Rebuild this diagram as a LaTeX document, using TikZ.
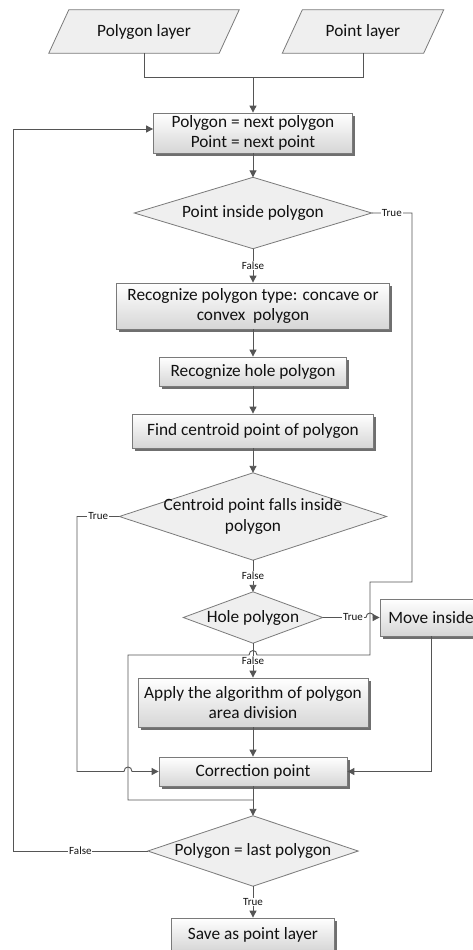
\documentclass[tikz,border=0pt]{standalone}
\usepackage{fontspec}
\setmainfont{Carlito}
\usetikzlibrary{arrows.meta,shadows,backgrounds,calc}
\definecolor{ln}{HTML}{555555}
\definecolor{bd}{HTML}{7A7A7A}
\definecolor{tx}{HTML}{111111}
\definecolor{gbot}{HTML}{D6D6D6}
\definecolor{dfill}{HTML}{EFEFEF}
\tikzset{
  every node/.style={text=tx, font=\fontsize{17.3}{20.5}\selectfont},
  box/.style={draw=bd, line width=0.8pt, top color=white, bottom color=gbot,
    drop shadow={shadow xshift=2.5pt, shadow yshift=-2.5pt, fill=black!75, opacity=0.75},
    align=center, inner sep=0pt},
  holder/.style={inner sep=0pt, align=center},
  outl/.style={draw=bd, line width=0.8pt, fill=dfill},
  wire/.style={draw=ln, line width=0.9pt},
  arr/.style={wire, -{Triangle[length=7pt,width=7pt]}},
  lbl/.style={fill=white, inner sep=0.8pt, font=\fontsize{11}{12}\selectfont},
}
\begin{document}
\begin{tikzpicture}[x=1pt,y=-1pt]
\useasboundingbox (0,0) rectangle (473,950);
% nodes
\node[holder, minimum width=170pt, minimum height=43pt] (pl) at (144,31.5) {Polygon layer};
\node[holder, minimum width=141pt, minimum height=43pt] (pt) at (363,31.5) {Point layer};
\node[box, minimum width=199pt, minimum height=40pt] (b1) at (253,133) {Polygon = next polygon\\Point = next point};
\node[holder, minimum width=237pt, minimum height=71pt] (d1) at (253,213) {Point inside polygon};
\node[box, minimum width=273pt, minimum height=46pt] (b2) at (253,306) {Recognize polygon type: concave or\\convex\ \ polygon};
\node[box, minimum width=187pt, minimum height=29pt] (b3) at (253,371.5) {Recognize hole polygon};
\node[box, minimum width=241pt, minimum height=34pt] (b4) at (253,431) {Find centroid point of polygon};
\node[holder, minimum width=267pt, minimum height=87pt] (d2) at (253,516.5) {Centroid point falls inside\\polygon};
\node[holder, minimum width=139pt, minimum height=51pt] (d3) at (253,617.5) {Hole polygon};
\node[box, minimum width=102pt, minimum height=37pt] (mv) at (431,617.5) {Move inside};
\node[box, minimum width=230pt, minimum height=49pt] (b5) at (253,702.5) {Apply the algorithm of polygon\\area division};
\node[box, minimum width=188pt, minimum height=29pt] (b6) at (253,771.5) {Correction point};
\node[holder, minimum width=210pt, minimum height=70pt] (d4) at (253,851) {Polygon = last polygon};
\node[box, minimum width=163pt, minimum height=33pt] (b7) at (253,934.5) {Save as point layer};
% shapes behind
\begin{scope}[on background layer]
\fill[white] (0,0) rectangle (473,950);
\draw[outl] ([xshift=-10pt]pl.south west) -- ([xshift=-10pt]pl.south east) -- ([xshift=10pt]pl.north east) -- ([xshift=10pt]pl.north west) -- cycle;
\draw[outl] ([xshift=-10pt]pt.south west) -- ([xshift=-10pt]pt.south east) -- ([xshift=10pt]pt.north east) -- ([xshift=10pt]pt.north west) -- cycle;
\foreach \d in {d1,d2,d3,d4}
  \draw[outl] (\d.north) -- (\d.east) -- (\d.south) -- (\d.west) -- cycle;
\end{scope}
% connectors
\coordinate (j1) at (253,77);
\coordinate (j2) at (253,800);
\draw[wire] (pl.south) |- (j1);
\draw[wire] (pt.south) |- (j1);
\draw[arr] (j1) -- (b1.north);
\draw[arr] (b1.south) -- (d1.north);
\draw[arr] (d1.south) -- node[lbl]{False} (b2.north);
\draw[arr] (b2.south) -- (b3.north);
\draw[arr] (b3.south) -- (b4.north);
\draw[arr] (b4.south) -- (d2.north);
\draw[arr] (d2.south) -- node[lbl]{False} (d3.north);
\draw[arr] (d3.south) -- node[lbl]{False} (b5.north);
\draw[arr] (b5.south) -- (b6.north);
\draw[arr] (b6.south) -- (d4.north);
\draw[arr] (d4.south) -- node[lbl]{True} (b7.north);
\draw[arr] (mv.south) |- (b6.east);
\draw[arr] (d3.east) -- node[lbl, pos=0.7]{True} (366,617.5)
  .. controls (366,611.5) and (374,611.5) .. (374,617.5) -- (mv.west);
\draw[wire] (d1.east) -- node[lbl]{True} (412,213) -- (412,582) -- (370,582) -- (370,655)
  -- (257,655) .. controls (257,649) and (249,649) .. (249,655)
  -- (128,655) -- (128,800) -- (j2);
\draw[arr] (d2.west) -- node[lbl]{True} (77,516.5) -- (77,771.5) -- (124,771.5)
  .. controls (124,765.5) and (132,765.5) .. (132,771.5) -- (b6.west);
\draw[arr] (d4.west) -- node[lbl]{False} (13,851) |- ([yshift=4pt]b1.west);
\end{tikzpicture}
\end{document}
